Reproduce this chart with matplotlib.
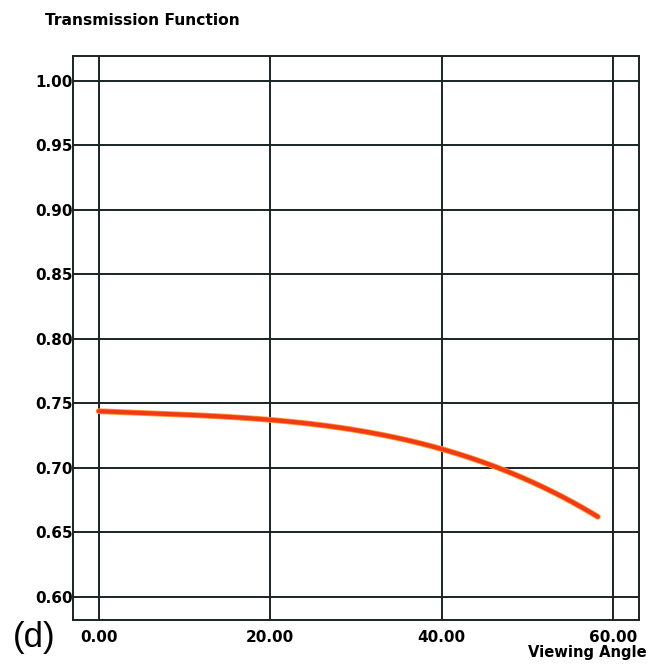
import matplotlib
matplotlib.use("Agg")
import matplotlib.pyplot as plt
import numpy as np

angle = [0, 10, 20, 30, 40, 47, 53.7, 58.2]
transmission = [0.7433, 0.7423, 0.7368, 0.7280, 0.7145, 0.7000, 0.6785, 0.6617]
xticks = [0, 20, 40, 60]
yticks = [0.60, 0.65, 0.70, 0.75, 0.80, 0.85, 0.90, 0.95, 1.00]

plt.rcParams['font.family'] = ['DejaVu Sans']
fig = plt.figure(figsize=(6.54, 6.65), dpi=100)
ax = fig.add_axes([73/654, 1-620/665, (639-73)/654, (620-56)/665])

# smooth curve via polynomial through read points
coef = np.polyfit(angle, transmission, 3)
xs = np.linspace(angle[0], angle[-1], 200)
ax.plot(xs, np.polyval(coef, xs), color='#ff9a30', lw=4.2, solid_capstyle='round', zorder=3)
ax.plot(xs, np.polyval(coef, xs), color='#f03a18', lw=3.0, solid_capstyle='round', zorder=4)

ax.set_xlim(-3, 63)
ax.set_ylim(0.582, 1.019)
ax.set_xticks(xticks)
ax.set_yticks(yticks)
ax.set_xticklabels([f"{v:.2f}" for v in xticks], fontsize=11, fontweight='bold')
ax.set_yticklabels([f"{v:.2f}" for v in yticks], fontsize=11, fontweight='bold')
ax.tick_params(length=0, pad=0)
ax.tick_params(axis='x', pad=7)
ax.grid(True, color='#1a2424', lw=1.4)
ax.set_axisbelow(True)
for s in ax.spines.values():
    s.set_color('#1a2424')
    s.set_linewidth(1.4)

fig.text(45/654, 1-20.5/665, "Transmission Function", fontsize=11.2, fontweight='bold', va='center', ha='left')
fig.text(647/654, 1-652/665, "Viewing Angle", fontsize=10.6, fontweight='bold', va='center', ha='right')
fig.text(13/654, 1-638/665, "(d)", fontsize=25, va='center', ha='left', family='Liberation Sans')

fig.savefig("out.png", dpi=100)
